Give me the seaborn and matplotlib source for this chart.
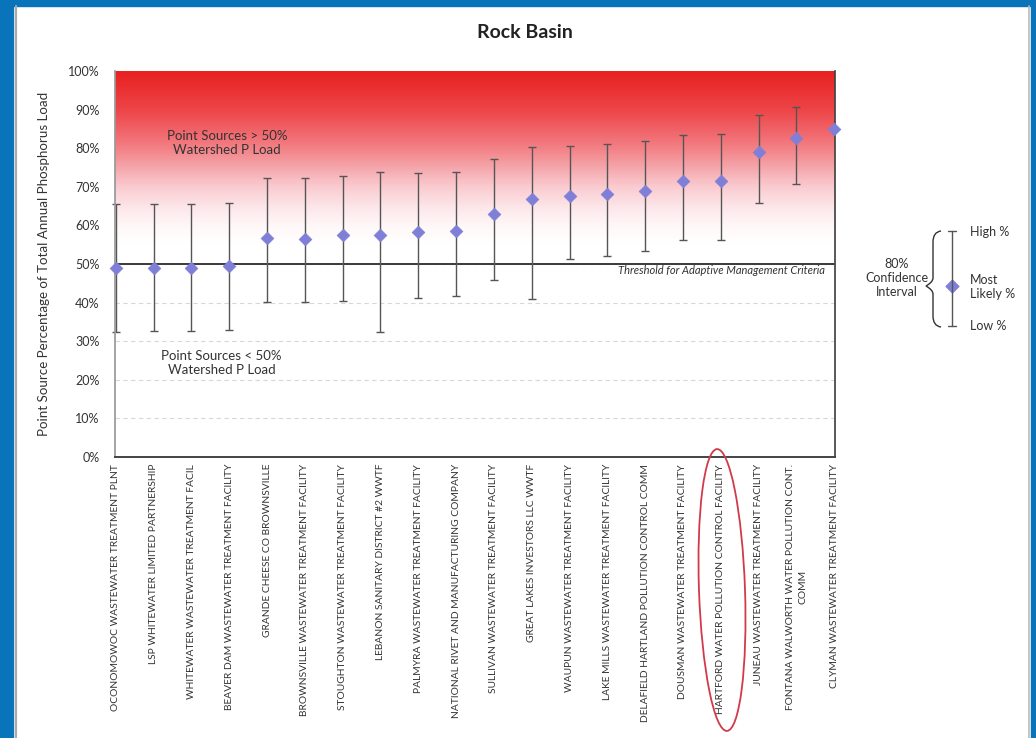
import numpy as np
import pandas as pd
import matplotlib
matplotlib.use("Agg")
import matplotlib.pyplot as plt
import seaborn as sns
from matplotlib.colors import LinearSegmentedColormap
from matplotlib.patches import Ellipse, Rectangle, PathPatch
from matplotlib.path import Path

# Daten
facilities = [
    "OCONOMOWOC WASTEWATER TREATMENT PLNT",
    "LSP WHITEWATER LIMITED PARTNERSHIP",
    "WHITEWATER WASTEWATER TREATMENT FACIL",
    "BEAVER DAM WASTEWATER TREATMENT FACILITY",
    "GRANDE CHEESE CO BROWNSVILLE",
    "BROWNSVILLE WASTEWATER TREATMENT FACILITY",
    "STOUGHTON WASTEWATER TREATMENT FACILITY",
    "LEBANON SANITARY DISTRICT #2 WWTF",
    "PALMYRA WASTEWATER TREATMENT FACILITY",
    "NATIONAL RIVET AND MANUFACTURING COMPANY",
    "SULLIVAN WASTEWATER TREATMENT FACILITY",
    "GREAT LAKES INVESTORS LLC WWTF",
    "WAUPUN WASTEWATER TREATMENT FACILITY",
    "LAKE MILLS WASTEWATER TREATMENT FACILITY",
    "DELAFIELD HARTLAND POLLUTION CONTROL COMM",
    "DOUSMAN WASTEWATER TREATMENT FACILITY",
    "HARTFORD WATER POLLUTION CONTROL FACILITY",
    "JUNEAU WASTEWATER TREATMENT FACILITY",
    "FONTANA WALWORTH WATER POLLUTION CONT.\nCOMM",
    "CLYMAN WASTEWATER TREATMENT FACILITY",
]
most_likely = [48.9, 48.9, 48.9, 49.5, 56.8, 56.6, 57.5, 57.5, 58.2, 58.6,
               62.9, 66.8, 67.6, 68.2, 69.0, 71.6, 71.6, 79.1, 82.7, 84.9]
high = [65.5, 65.5, 65.5, 65.8, 72.3, 72.3, 72.9, 73.9, 73.7, 73.8,
        77.2, 80.2, 80.6, 81.1, 81.9, 83.4, 83.7, 88.6, 90.8, np.nan]
low = [32.5, 32.6, 32.6, 32.9, 40.1, 40.1, 40.5, 32.5, 41.2, 41.7,
       45.9, 40.9, 51.2, 52.2, 53.3, 56.2, 56.2, 65.7, 70.7, np.nan]
y_ticks = [0, 10, 20, 30, 40, 50, 60, 70, 80, 90, 100]

df = pd.DataFrame({"pos": range(len(facilities)), "likely": most_likely,
                   "high": high, "low": low})

sns.set_theme(style="white")
plt.rcParams["font.family"] = ["Lato", "DejaVu Sans"]

fig = plt.figure(figsize=(10.36, 7.38), dpi=100)

# Rahmen / Seite
bg = fig.add_axes([0, 0, 1, 1], zorder=0)
bg.set_xlim(0, 1036)
bg.set_ylim(738, 0)
bg.axis("off")
blau = "#0a74bb"
bg.add_patch(Rectangle((0, 0), 13, 738, color=blau))
bg.add_patch(Rectangle((0, 0), 1036, 6, color=blau))
bg.add_patch(Rectangle((1031, 0), 5, 738, color=blau))
bg.plot([16, 16], [6, 738], color="#aaaaaa", lw=1.5)
bg.plot([1029, 1029], [6, 738], color="#bbbbbb", lw=1.2)

ax = fig.add_axes([115 / 1036, 1 - 457 / 738, 720 / 1036, 386 / 738], zorder=2)
xmax = len(facilities) - 1 + 0.02
ax.set_xlim(-0.02, xmax)
ax.set_ylim(0, 100)

# roter Verlauf (weiss bei ~55 %, kraeftig rot bei 100 %)
rot = LinearSegmentedColormap.from_list("rot", [
    (0.0, (1, 1, 1)), (0.11, (1, 0.97, 0.97)), (0.22, (0.99, 0.9, 0.91)),
    (0.33, (0.98, 0.8, 0.82)), (0.44, (0.96, 0.66, 0.68)),
    (0.56, (0.95, 0.5, 0.52)), (0.67, (0.94, 0.38, 0.4)),
    (0.78, (0.93, 0.27, 0.28)), (1.0, (0.91, 0.13, 0.13))])
grad = np.linspace(0, 1, 200).reshape(-1, 1)
ax.imshow(grad, extent=(-0.02, xmax, 55, 100), origin="lower",
          aspect="auto", cmap=rot, zorder=0.6)

for y in y_ticks[1:-1]:
    ax.axhline(y, color="#d8d8d8", lw=0.8, ls=(0, (4, 3)), zorder=0.5)
ax.axhline(50, color="#3a3a3a", lw=1.4, zorder=1)

ax.errorbar(df["pos"], df["likely"],
            yerr=[df["likely"] - df["low"], df["high"] - df["likely"]],
            fmt="none", ecolor="#555555", elinewidth=1.0, capsize=3, capthick=1.0,
            zorder=2, clip_on=False)
sns.scatterplot(data=df, x="pos", y="likely", marker="D", s=42, color="#7f7fd8",
                edgecolor="#7f7fd8", linewidth=0.5, zorder=3, ax=ax, clip_on=False)

ax.set_xticks(range(len(facilities)))
ax.set_xticklabels(facilities, rotation=90, fontsize=7.4, color="#333333",
                   linespacing=1.5)
ax.set_yticks(y_ticks)
ax.set_yticklabels([f"{v}%" for v in y_ticks], fontsize=9, color="#333333")
ax.tick_params(axis="x", length=0, pad=5)
ax.tick_params(axis="y", length=0, pad=11)
ax.set_xlabel("")
ax.set_ylabel("Point Source Percentage of Total Annual Phosphorus Load",
              fontsize=9.6, color="#333333", labelpad=13)
for s in ["left", "bottom", "right"]:
    ax.spines[s].set_color("#444444")
ax.spines["left"].set_color("#999999")
ax.spines["bottom"].set_linewidth(1.4)
ax.spines["top"].set_visible(False)

ax.text(2.95, 81.3, "Point Sources > 50%\nWatershed P Load", ha="center", va="center",
        fontsize=9.5, color="#333333", zorder=4)
ax.text(2.8, 24.4, "Point Sources < 50%\nWatershed P Load", ha="center", va="center",
        fontsize=9.5, color="#333333", zorder=4)
ax.text(18.74, 48.2, "Threshold for Adaptive Management Criteria", ha="right",
        va="center", fontsize=8, style="italic", color="#333333", zorder=4)

fig.text(525 / 1036, 1 - 33 / 738, "Rock Basin", ha="center", va="center",
         fontsize=14, fontweight="bold", color="#222222")

# Legende rechts (Konfidenzintervall)
ov = fig.add_axes([0, 0, 1, 1], zorder=5)
ov.set_xlim(0, 1036)
ov.set_ylim(738, 0)
ov.axis("off")
ov.plot([952, 952], [231, 326], color="#555555", lw=1.0)
ov.plot([948, 956], [231, 231], color="#555555", lw=1.0)
ov.plot([948, 956], [326, 326], color="#555555", lw=1.0)
ov.scatter([952], [286], marker="D", s=42, color="#7f7fd8")
verts = [(941, 231), (933, 232), (933, 242), (933, 278), (933, 282), (926, 286),
         (933, 290), (933, 294), (933, 316), (933, 326), (941, 327)]
codes = [Path.MOVETO, Path.CURVE3, Path.CURVE3, Path.LINETO, Path.CURVE3, Path.CURVE3,
         Path.CURVE3, Path.CURVE3, Path.LINETO, Path.CURVE3, Path.CURVE3]
ov.add_patch(PathPatch(Path(verts, codes), fill=False, color="#333333", lw=1.0))
ov.text(897, 278, "80%\nConfidence\nInterval", ha="center", va="center", fontsize=9,
        color="#333333", linespacing=1.15)
ov.text(970, 232, "High %", ha="left", va="center", fontsize=9, color="#333333")
ov.text(970, 287, "Most\nLikely %", ha="left", va="center", fontsize=9,
        color="#333333", linespacing=1.15)
ov.text(970, 326, "Low %", ha="left", va="center", fontsize=9, color="#333333")

# rote Markierung um Hartford
ov.add_patch(Ellipse((722, 590), 46, 282, angle=-2, fill=False, color="#d23a4a", lw=1.3))

fig.savefig("out.png", dpi=100)
